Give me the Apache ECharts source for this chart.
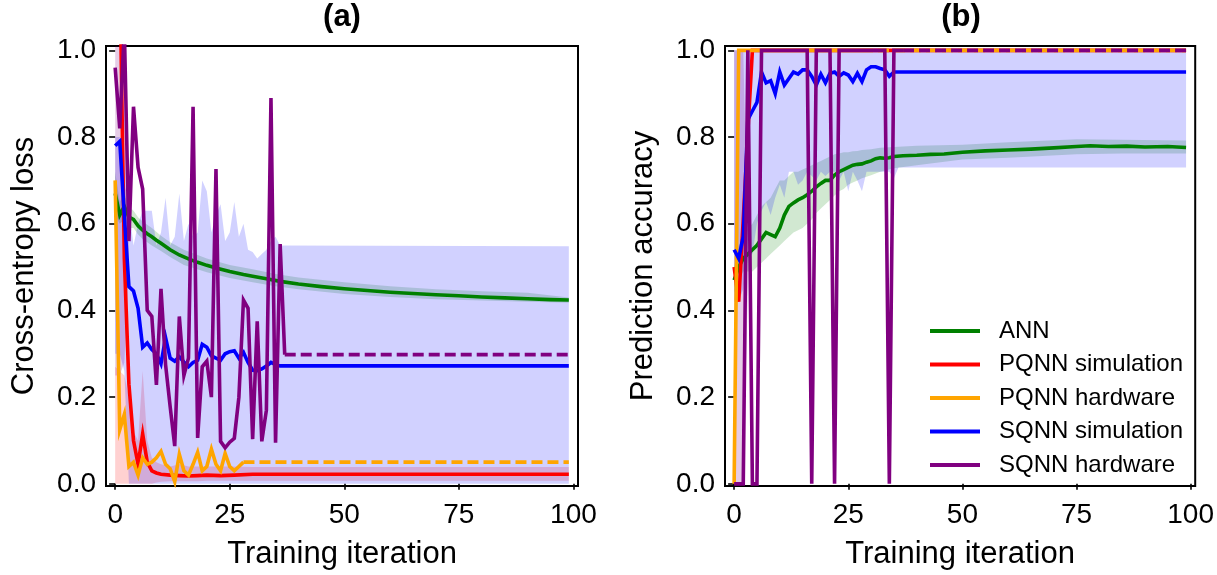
<!DOCTYPE html>
<html>
<head>
<meta charset="utf-8">
<script src="https://cdn.jsdelivr.net/npm/echarts@6/dist/echarts.min.js"></script>
<style>
  html, body { margin: 0; padding: 0; background: #fff; }
  #main { width: 1217px; height: 575px; }
</style>
</head>
<body>
<div id="main"></div>
<script>
const iterTicks = [0, 25, 50, 75, 100];
const valueTicks = [0, 0.2, 0.4, 0.6, 0.8, 1.0];
const seriesNames = ['ANN', 'PQNN simulation', 'PQNN hardware', 'SQNN simulation', 'SQNN hardware'];
const seriesColors = ['green', 'red', 'orange', 'blue', 'purple'];

// (a) cross-entropy loss, [iteration, value]
const annLoss = [[0,0.67],[1,0.62],[2,0.64],[3,0.615],[4,0.61],[5,0.595],[6,0.585],[7,0.577],[8,0.57],[9,0.562],[10,0.555],[12,0.54],[14,0.528],[16,0.519],[18,0.511],[20,0.504],[22,0.498],[25,0.49],[28,0.483],[30,0.479],[33,0.473],[36,0.467],[40,0.461],[45,0.455],[50,0.45],[55,0.446],[60,0.442],[65,0.439],[70,0.436],[75,0.434],[80,0.431],[85,0.429],[90,0.427],[95,0.425],[99,0.424]];
const pqnnSimLoss = [[0,1.8],[1,1.2],[2,0.52],[3,0.23],[4,0.1],[5,0.045],[6,0.115],[7,0.05],[8,0.03],[9,0.025],[10,0.022],[12,0.02],[14,0.019],[16,0.018],[18,0.019],[20,0.02],[23,0.019],[26,0.02],[30,0.022],[40,0.022],[60,0.022],[99,0.022]];
const pqnnHwLoss = [[0,0.70],[1,0.125],[2,0.16],[3,0.04],[4,0.05],[5,0.02],[6,0.06],[7,0.045],[8,0.05],[9,0.06],[10,0.075],[11,0.045],[12,0.035],[13,0.005],[14,0.068],[15,0.03],[16,0.02],[17,0.045],[18,0.073],[19,0.03],[20,0.04],[21,0.08],[22,0.045],[23,0.03],[24,0.07],[25,0.04],[26,0.03],[27,0.04],[28,0.05]];
const pqnnHwLossTail = [[28,0.05],[99,0.05]];
const sqnnSimLoss = [[0,0.78],[1,0.79],[2,0.62],[3,0.455],[4,0.445],[5,0.405],[6,0.315],[7,0.325],[8,0.31],[9,0.30],[10,0.277],[11,0.337],[12,0.29],[13,0.283],[14,0.293],[15,0.281],[16,0.27],[17,0.28],[18,0.285],[19,0.322],[20,0.315],[21,0.295],[22,0.29],[23,0.285],[24,0.30],[25,0.305],[26,0.307],[27,0.29],[28,0.303],[29,0.28],[30,0.262],[31,0.261],[32,0.265],[33,0.272],[34,0.28],[35,0.275],[36,0.272],[99,0.272]];
const sqnnHwLoss = [[0,0.96],[1,0.82],[2,1.05],[3,0.56],[4,0.87],[5,0.73],[6,0.68],[7,0.40],[8,0.386],[9,0.228],[10,0.45],[11,0.275],[12,0.178],[13,0.087],[14,0.386],[15,0.25],[16,0.29],[17,0.87],[18,0.106],[19,0.27],[20,0.283],[21,0.20],[22,0.726],[23,0.098],[24,0.083],[25,0.096],[26,0.105],[27,0.20],[28,0.424],[29,0.405],[30,0.103],[31,0.375],[32,0.098],[33,0.17],[34,0.89],[35,0.095],[36,0.553],[37,0.298]];
const sqnnHwLossTail = [[37,0.298],[99,0.298]];

// (a) shaded spreads
const annLossBandX = [0,1,2,3,4,5,6,8,10,12,15,20,25,30,35,40,50,60,70,80,90,99];
const annLossBandLo = [0.62,0.60,0.61,0.59,0.59,0.575,0.565,0.55,0.537,0.523,0.505,0.488,0.475,0.465,0.456,0.449,0.438,0.431,0.426,0.423,0.42,0.418];
const annLossBandHi = [0.72,0.65,0.67,0.64,0.63,0.615,0.605,0.59,0.572,0.557,0.54,0.52,0.505,0.495,0.484,0.476,0.465,0.456,0.449,0.444,0.441,0.43];
const pqnnSimLossBandX = [0,1,2,3,4,5,6,7,8,9,10,12,14,16,18,20,25,30,40,99];
const pqnnSimLossBandLo = [0,0,0,0,0,0,0,0,0,0.003,0.005,0.006,0.006,0.006,0.006,0.007,0.007,0.007,0.007,0.007];
const pqnnSimLossBandHi = [0.27,0.26,0.25,0.2,0.12,0.1,0.26,0.1,0.06,0.05,0.045,0.04,0.045,0.04,0.04,0.04,0.04,0.039,0.039,0.039];
const sqnnSimLossBandX = [0,1,2,3,4,5,6,7,8,9,10,11,12,13,14,15,16,17,18,19,20,21,22,23,24,25,26,27,28,29,30,31,32,33,34,35,36,99];
const sqnnSimLossBandLo = [0.30,0.30,0.26,0,0,0,0,0,0,0,0,0,0,0,0,0,0,0,0,0,0,0,0,0,0,0,0,0,0,0,0,0,0,0,0,0,0,0];
const sqnnSimLossBandHi = [0.80,0.80,0.70,0.64,0.55,0.60,0.63,0.63,0.63,0.55,0.58,0.66,0.55,0.57,0.67,0.56,0.60,0.57,0.58,0.70,0.675,0.58,0.62,0.645,0.56,0.58,0.65,0.57,0.60,0.54,0.535,0.52,0.53,0.54,0.56,0.57,0.55,0.548];
const sqnnHwLossBandX = [0,1,2,3];
const sqnnHwLossBandLo = [0.25,0.25,0.28,0.5];
const sqnnHwLossBandHi = [1.2,1.2,1.2,0.6];

// (b) prediction accuracy, [iteration, value]
const annAcc = [[0,0.47],[1,0.50],[2,0.52],[3,0.53],[4,0.54],[5,0.55],[6,0.565],[7,0.58],[8,0.575],[9,0.57],[10,0.59],[11,0.62],[12,0.64],[13,0.648],[14,0.655],[15,0.66],[16,0.667],[17,0.675],[18,0.685],[19,0.693],[20,0.70],[21,0.70],[22,0.712],[23,0.72],[24,0.725],[25,0.73],[26,0.735],[27,0.737],[28,0.738],[29,0.742],[30,0.745],[31,0.75],[32,0.752],[33,0.751],[34,0.752],[35,0.755],[37,0.757],[40,0.758],[43,0.76],[46,0.761],[50,0.765],[55,0.768],[60,0.77],[65,0.772],[70,0.775],[75,0.778],[78,0.78],[82,0.778],[86,0.779],[90,0.777],[95,0.778],[99,0.776]];
const pqnnSimAcc = [[0,0.50],[1,0.42],[2,0.61],[3,0.81],[4,1.0],[99,1.0]];
const pqnnHwAcc = [[0,0],[1,1],[28,1]];
const pqnnHwAccTail = [[28,1],[99,1]];
const sqnnSimAcc = [[0,0.54],[1,0.52],[2,0.57],[3,0.84],[4,0.86],[5,0.88],[6,0.95],[7,0.925],[8,0.93],[9,0.90],[10,0.95],[11,0.92],[12,0.935],[13,0.95],[14,0.945],[15,0.955],[16,0.955],[17,0.94],[18,0.92],[19,0.945],[20,0.925],[21,0.947],[22,0.95],[23,0.94],[24,0.948],[25,0.943],[26,0.928],[27,0.947],[28,0.928],[29,0.955],[30,0.962],[31,0.962],[32,0.958],[33,0.955],[34,0.94],[35,0.95],[99,0.95]];
const sqnnHwAcc = [[0,0],[1,0],[2,0],[3,1],[4,0],[5,0],[6,1],[16,1],[17,0],[18,1],[21,1],[22,0],[23,1],[33,1],[34,0],[35,1],[37,1]];
const sqnnHwAccTail = [[37,1],[99,1]];

// (b) shaded spreads
const annAccBandX = [0,1,2,3,4,5,6,7,8,9,10,11,12,13,14,15,16,17,18,19,20,21,22,23,24,25,26,27,28,30,32,35,40,50,60,75,85,99];
const annAccBandLo = [0.44,0.47,0.49,0.49,0.49,0.50,0.51,0.52,0.53,0.54,0.55,0.56,0.57,0.58,0.585,0.59,0.60,0.61,0.625,0.635,0.645,0.655,0.665,0.675,0.68,0.69,0.695,0.70,0.705,0.712,0.72,0.728,0.735,0.748,0.752,0.76,0.762,0.762];
const annAccBandHi = [0.50,0.55,0.57,0.59,0.60,0.62,0.64,0.65,0.66,0.68,0.70,0.70,0.71,0.72,0.72,0.725,0.73,0.735,0.74,0.745,0.75,0.755,0.76,0.762,0.765,0.765,0.767,0.768,0.77,0.772,0.775,0.777,0.78,0.782,0.788,0.795,0.794,0.792];
const sqnnSimAccBandX = [0,1,2,3,4,5,6,7,8,9,10,11,12,13,14,15,16,17,18,19,20,21,22,23,24,25,26,27,28,29,30,31,32,33,34,35,36,99];
const sqnnSimAccBandLo = [0.42,0.42,0.45,0.52,0.53,0.60,0.63,0.65,0.62,0.66,0.69,0.66,0.72,0.72,0.69,0.70,0.72,0.71,0.70,0.72,0.71,0.72,0.72,0.70,0.72,0.675,0.72,0.70,0.675,0.72,0.72,0.72,0.72,0.72,0.72,0.705,0.73,0.73];
const sqnnSimAccBandHi = [1,1,1,1,1,1,1,1,1,1,1,1,1,1,1,1,1,1,1,1,1,1,1,1,1,1,1,1,1,1,1,1,1,1,1,1,1,1];
const sqnnHwAccBandX = [0,1,2,3];
const sqnnHwAccBandLo = [0,0,0,0.45];
const sqnnHwAccBandHi = [1,1,1,0.55];

const font = 'Liberation Sans, Arial, sans-serif';
const colorOf = {};
seriesNames.forEach((n, i) => { colorOf[n] = seriesColors[i]; });

function lineSeries(name, data, gi, dashed) {
    return {
        name: name, type: 'line', xAxisIndex: gi, yAxisIndex: gi,
        data: data, symbol: 'none', z: 3, silent: true,
        lineStyle: { color: colorOf[name], width: 3.6, type: dashed ? [11, 5] : 'solid', join: 'miter' },
        itemStyle: { color: colorOf[name] }
    };
}

// spread drawn as one polygon (upper edge forward, lower edge back)
function bandSeries(key, xs, lo, hi, color, opacity, gi) {
    const rows = xs.map((x, i) => [x, lo[i], hi[i]]);
    return {
        name: key, type: 'custom', xAxisIndex: gi, yAxisIndex: gi,
        data: rows, encode: { x: 0, y: [1, 2] }, z: 1, silent: true, clip: true,
        renderItem: function (params, api) {
            if (params.dataIndex !== 0) return null;
            const top = rows.map(r => api.coord([r[0], r[2]]));
            const bottom = rows.map(r => api.coord([r[0], r[1]])).reverse();
            const cs = params.coordSys;
            return {
                type: 'polygon',
                shape: { points: top.concat(bottom) },
                style: { fill: color, opacity: opacity },
                clipPath: { type: 'rect', shape: { x: cs.x, y: cs.y, width: cs.width, height: cs.height } }
            };
        }
    };
}

function xAxisFor(gi) {
    return {
        type: 'value', gridIndex: gi, min: -2, max: 101,
        name: 'Training iteration', nameLocation: 'middle', nameGap: 53,
        nameTextStyle: { fontSize: 31, color: '#000', fontFamily: font },
        axisLine: { show: false }, splitLine: { show: false },
        axisTick: { show: true, inside: false, length: 6, customValues: iterTicks, lineStyle: { color: '#000', width: 1.6 } },
        axisLabel: { customValues: iterTicks, fontSize: 28, color: '#000', margin: 15, fontFamily: font }
    };
}

function yAxisFor(gi, name) {
    return {
        type: 'value', gridIndex: gi, min: -0.005, max: 1.01,
        name: name, nameLocation: 'middle', nameGap: 66,
        nameTextStyle: { fontSize: 31, color: '#000', fontFamily: font },
        axisLine: { show: false }, splitLine: { show: false },
        axisTick: { show: true, inside: false, length: 6, customValues: valueTicks, lineStyle: { color: '#000', width: 1.6 } },
        axisLabel: { customValues: valueTicks, fontSize: 28, color: '#000', margin: 10, fontFamily: font,
            formatter: v => v.toFixed(1) }
    };
}

const series = [
    // (a)
    bandSeries('annA', annLossBandX, annLossBandLo, annLossBandHi, 'green', 0.18, 0),
    bandSeries('pqsA', pqnnSimLossBandX, pqnnSimLossBandLo, pqnnSimLossBandHi, 'red', 0.18, 0),
    bandSeries('sqsA', sqnnSimLossBandX, sqnnSimLossBandLo, sqnnSimLossBandHi, 'blue', 0.18, 0),
    bandSeries('sqhA', sqnnHwLossBandX, sqnnHwLossBandLo, sqnnHwLossBandHi, 'purple', 0.2, 0),
    lineSeries('ANN', annLoss, 0),
    lineSeries('PQNN simulation', pqnnSimLoss, 0),
    lineSeries('PQNN hardware', pqnnHwLoss, 0),
    lineSeries('PQNN hardware', pqnnHwLossTail, 0, true),
    lineSeries('SQNN simulation', sqnnSimLoss, 0),
    lineSeries('SQNN hardware', sqnnHwLoss, 0),
    lineSeries('SQNN hardware', sqnnHwLossTail, 0, true),
    // (b)
    bandSeries('annB', annAccBandX, annAccBandLo, annAccBandHi, 'green', 0.18, 1),
    bandSeries('sqsB', sqnnSimAccBandX, sqnnSimAccBandLo, sqnnSimAccBandHi, 'blue', 0.18, 1),
    bandSeries('sqhB', sqnnHwAccBandX, sqnnHwAccBandLo, sqnnHwAccBandHi, 'purple', 0.2, 1),
    lineSeries('ANN', annAcc, 1),
    lineSeries('PQNN simulation', pqnnSimAcc, 1),
    lineSeries('PQNN hardware', pqnnHwAcc, 1),
    lineSeries('PQNN hardware', pqnnHwAccTail, 1, true),
    lineSeries('SQNN simulation', sqnnSimAcc, 1),
    lineSeries('SQNN hardware', sqnnHwAcc, 1),
    lineSeries('SQNN hardware', sqnnHwAccTail, 1, true)
];

const chart = echarts.init(document.getElementById('main'), null, { renderer: 'canvas' });
chart.setOption({
    animation: false,
    backgroundColor: '#fff',
    title: [
        { text: '(a)', left: 342, top: 2, textAlign: 'center', padding: 0,
          textStyle: { fontSize: 31, fontWeight: 'bold', color: '#000', fontFamily: font } },
        { text: '(b)', left: 961, top: 2, textAlign: 'center', padding: 0,
          textStyle: { fontSize: 31, fontWeight: 'bold', color: '#000', fontFamily: font } }
    ],
    grid: [
        { left: 106, top: 46, width: 472, height: 446, show: true, borderColor: '#000', borderWidth: 2, backgroundColor: 'transparent' },
        { left: 725, top: 46, width: 472, height: 446, show: true, borderColor: '#000', borderWidth: 2, backgroundColor: 'transparent' }
    ],
    legend: {
        data: seriesNames, orient: 'vertical', left: 930, top: 319, padding: 0,
        itemWidth: 50, itemHeight: 4, itemGap: 9.5, icon: 'rect', selectedMode: false,
        textStyle: { fontSize: 24, lineHeight: 24, color: '#000', fontFamily: font, padding: [0, 0, 0, 14] }
    },
    xAxis: [xAxisFor(0), xAxisFor(1)],
    yAxis: [yAxisFor(0, 'Cross-entropy loss'), yAxisFor(1, 'Prediction accuracy')],
    series: series
});
</script>
</body>
</html>
